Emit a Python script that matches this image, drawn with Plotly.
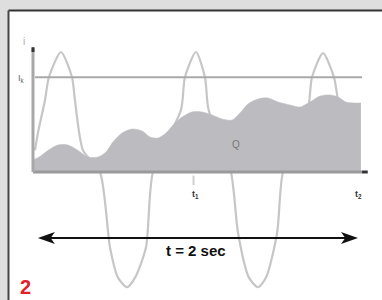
import plotly.graph_objects as go

# ---- data (time in s, current in relative units) ----
wave_t = [0.012, 0.031, 0.074, 0.098, 0.172, 0.240, 0.258, 0.308, 0.412, 0.474,
          0.523, 0.578, 0.628, 0.695, 0.738, 0.911, 0.935, 1.003, 1.058, 1.080,
          1.218, 1.262, 1.329, 1.385, 1.434, 1.502, 1.538, 1.692, 1.717, 1.785,
          1.852, 1.877, 1.920]
wave_v = [0.18, 0.33, 0.60, 0.79, 1.00, 0.79, 0.60, 0.18, 0.00, -0.63,
          -0.88, -0.96, -0.88, -0.63, 0.00, 0.52, 0.79, 1.00, 0.79, 0.52,
          0.00, -0.51, -0.88, -0.96, -0.88, -0.51, 0.00, 0.52, 0.79, 0.99,
          0.79, 0.60, 0.35]

load_t = [0.0, 0.043, 0.092, 0.154, 0.215, 0.277, 0.338, 0.400, 0.449, 0.492,
          0.548, 0.609, 0.671, 0.720, 0.769, 0.818, 0.868, 0.917, 0.978, 1.040,
          1.102, 1.163, 1.225, 1.274, 1.323, 1.385, 1.446, 1.508, 1.582, 1.643,
          1.705, 1.766, 1.828, 1.877, 1.926, 1.975, 2.018]
load_v = [0.10, 0.13, 0.18, 0.225, 0.225, 0.18, 0.125, 0.125, 0.167, 0.25,
          0.325, 0.358, 0.342, 0.292, 0.283, 0.325, 0.40, 0.458, 0.50, 0.50,
          0.475, 0.442, 0.433, 0.492, 0.567, 0.608, 0.617, 0.583, 0.558, 0.542,
          0.583, 0.633, 0.642, 0.625, 0.583, 0.575, 0.575]

threshold = 0.79
tick_t = [1.0, 2.0]
tick_labels = ["t<sub>1</sub>", "t<sub>2</sub>"]
span_label = "t = 2 sec"
fig_number = "2"

# ---- figure ----
X0, X1 = -0.2031, 2.1477
Y0, Y1 = -1.0667, 1.4333
PX = 162.5  # px per second
PY = 120.0  # px per unit

fig = go.Figure()

# white panel with top/left border
fig.add_shape(type="rect", xref="paper", yref="paper", x0=8.5/382, x1=1.02,
              y0=-0.02, y1=(300-10.5)/300, fillcolor="white", line_width=0, layer="below")
fig.add_shape(type="line", xref="paper", yref="paper", x0=8.5/382, x1=1.02,
              y0=(300-10.5)/300, y1=(300-10.5)/300, line=dict(color="#333333", width=2), layer="below")
fig.add_shape(type="line", xref="paper", yref="paper", x0=8.5/382, x1=8.5/382,
              y0=-0.02, y1=(300-10.5)/300, line=dict(color="#444444", width=2), layer="below")

# sine current
fig.add_trace(go.Scatter(x=wave_t, y=wave_v, mode="lines",
                         line=dict(color="#c6c6c6", width=2.2, shape="spline", smoothing=0.7),
                         hoverinfo="skip", showlegend=False))
# filled load
fig.add_trace(go.Scatter(x=load_t, y=load_v, mode="lines", fill="tozeroy",
                         fillcolor="#bcbcc0", line=dict(color="#bcbcc0", width=0.5, shape="spline", smoothing=0.8),
                         hoverinfo="skip", showlegend=False))

# threshold line
fig.add_shape(type="line", x0=0.012, x1=2.025, y0=threshold, y1=threshold,
              line=dict(color="#a9a9a9", width=2))
# baseline
fig.add_shape(type="line", x0=0.0, x1=2.025, y0=0, y1=0,
              line=dict(color="#9a9a9a", width=3))
fig.add_shape(type="line", x0=2.025, x1=2.06, y0=0, y1=0,
              line=dict(color="#333333", width=3))
# vertical axis
fig.add_shape(type="line", x0=0.0, x1=0.0, y0=0, y1=1.03,
              line=dict(color="#a8a8a8", width=3))
fig.add_shape(type="line", x0=0.0, x1=0.0, y0=1.00, y1=1.04,
              line=dict(color="#333333", width=3))

# tick marks
for t in tick_t[:1]:
    fig.add_shape(type="line", x0=t - 0.012, x1=t - 0.012, y0=-0.03, y1=-0.11,
                  line=dict(color="#cfcfcf", width=2))
for t, lab in zip(tick_t, tick_labels):
    fig.add_annotation(x=t, y=-0.19, text=f"<b>{lab}</b>", showarrow=False,
                       font=dict(family="Liberation Sans", size=9, color="#333333"))

# axis labels
fig.add_annotation(x=-0.058, y=1.09, text="i", showarrow=False,
                   font=dict(family="Liberation Sans", size=10, color="#aaaaaa"))
fig.add_annotation(x=-0.068, y=0.78, text="I<sub>k</sub>", showarrow=False,
                   font=dict(family="Liberation Sans", size=9, color="#666666"))
fig.add_annotation(x=1.25, y=0.23, text="Q", showarrow=False,
                   font=dict(family="Liberation Sans", size=10, color="#777777"))

# double arrow
ay = -0.55
a0, a1 = 0.03, 2.0
hl = 17 / PX
hh = 6 / PY
fig.add_shape(type="line", x0=a0 + hl * 0.6, x1=a1 - hl * 0.6, y0=ay, y1=ay,
              line=dict(color="#111111", width=2.2))
fig.add_shape(type="path",
              path=f"M {a0} {ay} L {a0+hl} {ay+hh} L {a0+hl*0.75} {ay} L {a0+hl} {ay-hh} Z",
              fillcolor="#111111", line_width=0)
fig.add_shape(type="path",
              path=f"M {a1} {ay} L {a1-hl} {ay+hh} L {a1-hl*0.75} {ay} L {a1-hl} {ay-hh} Z",
              fillcolor="#111111", line_width=0)
fig.add_annotation(x=1.0, y=-0.65, text=f"<b>{span_label}</b>", showarrow=False,
                   font=dict(family="Liberation Sans Narrow, Liberation Sans", size=15, color="#111111"))

# figure number
fig.add_annotation(x=-0.045, y=-0.955, text=f"<b>{fig_number}</b>", showarrow=False,
                   font=dict(family="Liberation Sans", size=20, color="#e3202a"))

fig.update_layout(width=382, height=300, margin=dict(l=0, r=0, t=0, b=0),
                  paper_bgcolor="#dedede", plot_bgcolor="rgba(0,0,0,0)",
                  xaxis=dict(range=[X0, X1], visible=False, fixedrange=True, domain=[0, 1]),
                  yaxis=dict(range=[Y0, Y1], visible=False, fixedrange=True, domain=[0, 1]),
                  showlegend=False)

fig.write_html("out.html", config={"displayModeBar": False},
               post_script="document.body.style.margin='0';document.body.style.overflow='hidden';")
